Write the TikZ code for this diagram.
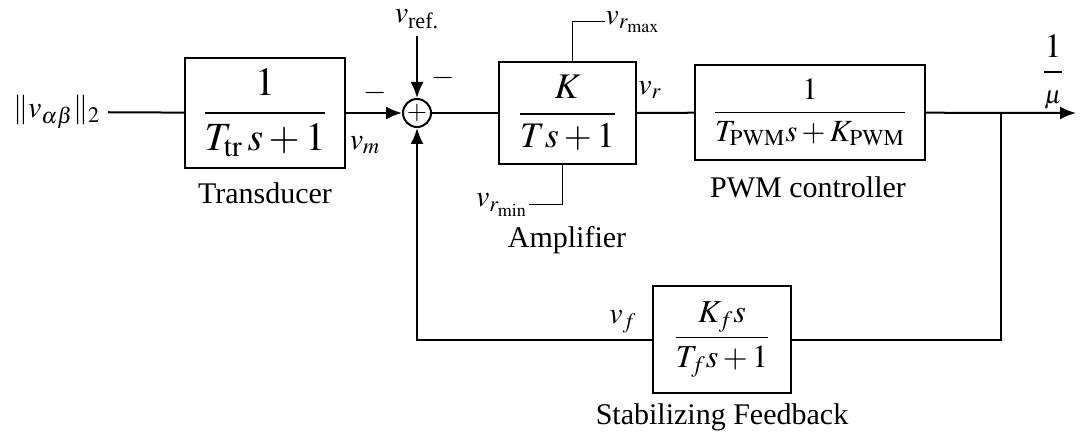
\documentclass[tikz,border=0pt]{standalone}
\usepackage{amsmath}
\usepackage{mathptmx}
\usepackage[no-math]{fontspec}
\setmainfont{Liberation Serif}
\usetikzlibrary{arrows.meta,positioning,calc}

\begin{document}
\begin{tikzpicture}[
  x=0.5pt,y=-0.5pt,
  font=\fontsize{15}{18}\selectfont,
  >={Latex[length=8pt,width=6.5pt]},
  line width=1pt,
  blk/.style={draw, line width=1pt, inner sep=0pt, align=center},
  sumpt/.style={draw, circle, line width=1pt, minimum size=14pt, inner sep=0pt, font=\fontsize{13}{13}\selectfont},
  lbl/.style={inner sep=0pt, align=center},
  lim/.style={line width=0.5pt},
]
\useasboundingbox (0,0) rectangle (1080,438);
% forward path
\node[anchor=east] (in) at (108,112) {$\|v_{\alpha\beta}\|_2$};
\node[blk, minimum width=80pt, minimum height=55pt, font=\fontsize{20}{23}\selectfont] (tr) at (265,113)
  {$\dfrac{1}{T_{\mathrm{tr}}\,s+1}$};
\node[lbl] (trlbl) at (265,193) {Transducer};
\node[sumpt] (sum) at (417,113) {$+$};
\node (vref) at (417,19) {$v_{\text{ref.}}$};
\node[lbl] (m1) at (375,93) {$-$};
\node[lbl] (m2) at (443,78) {$-$};
\node[lbl] (vm) at (365,145) {$v_m$};
\node[blk, minimum width=68.5pt, minimum height=51pt, font=\fontsize{18}{21}\selectfont] (amp) at (567.5,113)
  {$\dfrac{K}{Ts+1}$};
\node[lbl] (rmax) at (633,22) {$v_{r_{\max}}$};
\node[lbl] (rmin) at (502,205) {$v_{r_{\min}}$};
\node[lbl] (amplbl) at (567,240) {Amplifier};
\node[lbl] (vr) at (650,90) {$v_r$};
\node[blk, minimum width=115pt, minimum height=47.5pt, font=\fontsize{15.4}{18}\selectfont] (pwm) at (810,112.5)
  {$\dfrac{1}{T_{\mathrm{PWM}}s+K_{\mathrm{PWM}}}$};
\node[lbl] (pwmlbl) at (808,187) {PWM controller};
\coordinate (branch) at (1001,113);
\coordinate (out) at (1076,113);
\node[lbl, font=\fontsize{17}{20}\selectfont] (mu) at (1053,72) {$\dfrac{1}{\scriptstyle\mu}$};
% feedback path
\node[blk, minimum width=69pt, minimum height=53.5pt, font=\fontsize{16}{19}\selectfont] (fb) at (722,339.5)
  {$\dfrac{K_f s}{T_f s+1}$};
\node[lbl] (fblbl) at (722,417) {Stabilizing Feedback};
\node[lbl] (vf) at (623,322) {$v_f$};
% flows
\draw (in) -- (tr);
\draw[->] (tr) -- (sum);
\draw[->] (vref) -- (sum);
\draw (sum) -- (amp);
\draw (amp) -- (pwm);
\draw[->] (pwm) -- (out);
\draw (branch) |- (fb.east);
\draw[->] (fb.west) -| (sum.south);
% saturation limits
\draw[lim] ($(amp.north)+(4.5,0)$) |- (rmax.west);
\draw[lim] ($(amp.south)+(-5.5,0)$) |- (rmin.east);
\end{tikzpicture}
\end{document}
